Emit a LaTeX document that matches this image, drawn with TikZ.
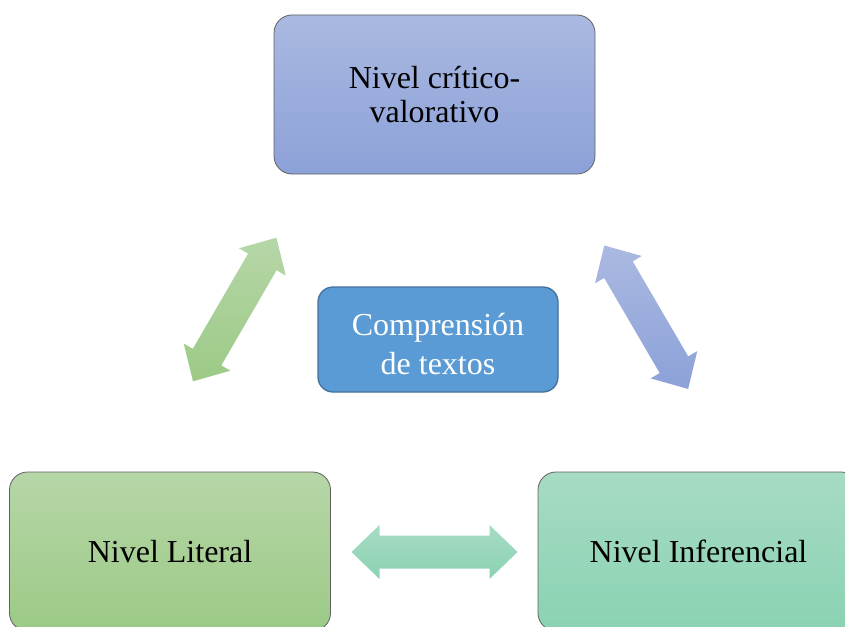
\documentclass[tikz,border=0pt]{standalone}
\usepackage{fontspec}
\setmainfont{Liberation Serif}
\definecolor{blueTop}{HTML}{AAB9E1}
\definecolor{blueBot}{HTML}{8CA1D8}
\definecolor{greenTop}{HTML}{B6D6A8}
\definecolor{greenBot}{HTML}{9CCA86}
\definecolor{tealTop}{HTML}{A7DBC4}
\definecolor{tealBot}{HTML}{8AD2B2}
\definecolor{coreFill}{HTML}{5B9BD5}
\definecolor{coreLine}{HTML}{41719C}
\tikzset{
  lvl/.style={rounded corners=18pt, draw=black!62, line width=0.8pt,
    minimum width=321pt, minimum height=159pt, inner sep=0pt,
    font=\fontsize{32}{34.5}\selectfont, align=center},
  core/.style={rounded corners=15pt, draw=coreLine, line width=1.3pt, fill=coreFill,
    minimum width=240pt, minimum height=105pt, inner sep=0pt},
  coretext/.style={inner sep=0pt, text=white,
    font=\fontsize{32}{38.5}\selectfont, align=center},
  blockarrow/.style={line join=miter}
}
\begin{document}
\begin{tikzpicture}[x=1pt,y=-1pt]
\useasboundingbox (0,0) rectangle (845,626);
\clip (0,0) rectangle (845,626);

\node[lvl, top color=blueTop, bottom color=blueBot] (cv) at (434.5,94.5) {Nivel crítico-\\valorativo};
\node[lvl, top color=greenTop, bottom color=greenBot] (lit) at (170,551.5) {Nivel Literal};
\node[lvl, top color=tealTop, bottom color=tealBot] (inf) at (698.5,551.5) {Nivel Inferencial};
\node[core] (ct) at (438,339.5) {};
\node[coretext] (ctt) at ([yshift=-4.5pt]ct.center) {Comprensión\\de textos};

% left double arrow (green)
\shade[blockarrow, top color=greenTop, bottom color=greenBot]
  (276.4,237.7) -- (285.7,275.5) -- (276.6,270.2) -- (221.3,365.4) -- (230.4,370.7)
  -- (193.0,381.3) -- (183.7,343.5) -- (192.8,348.8) -- (248.1,253.6) -- (239.0,248.3) -- cycle;

% right double arrow (blue)
\shade[blockarrow, top color=blueTop, bottom color=blueBot]
  (604.3,245.5) -- (641.75,256.0) -- (632.7,261.35) -- (688.2,356.4) -- (697.3,351.1)
  -- (688.1,388.9) -- (650.65,378.4) -- (659.7,373.05) -- (604.2,278.0) -- (595.1,283.3) -- cycle;

% bottom double arrow (teal)
\shade[blockarrow, top color=tealTop, bottom color=tealBot]
  (517.5,552) -- (489.5,579) -- (489.5,568.5) -- (379.5,568.5) -- (379.5,579)
  -- (351.5,552) -- (379.5,525) -- (379.5,535.5) -- (489.5,535.5) -- (489.5,525) -- cycle;
\end{tikzpicture}
\end{document}
